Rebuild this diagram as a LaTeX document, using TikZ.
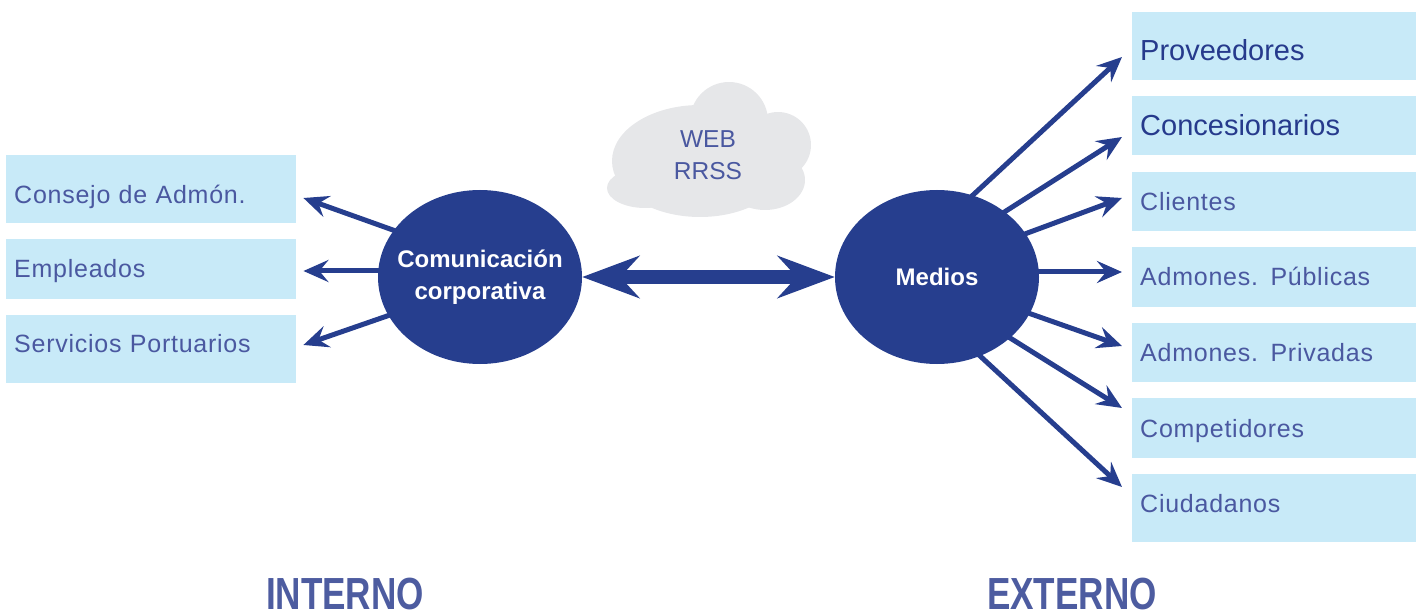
\documentclass[tikz,border=0pt]{standalone}
\usepackage{fontspec}
\setmainfont{Liberation Sans}
\newfontfamily\lsfont[LetterSpace=3]{Liberation Sans}
\newfontfamily\condfont[FakeStretch=0.78]{Liberation Sans}
\usetikzlibrary{shapes.geometric,arrows.meta,calc}
\definecolor{dblue}{RGB}{38,62,142}
\definecolor{boxfill}{RGB}{200,234,248}
\definecolor{txtlight}{RGB}{74,88,160}
\definecolor{txtdark}{RGB}{38,58,140}
\definecolor{cloudc}{RGB}{230,231,233}
\definecolor{lblue}{RGB}{77,92,160}
\pgfdeclarelayer{background}
\pgfsetlayers{background,main}
\tikzset{
  box/.style={rectangle, fill=boxfill, anchor=west, minimum width=290pt,
    text width=274pt, inner xsep=8pt, inner ysep=0pt, align=left,
    text height=18pt, text depth=0pt, text=txtlight,
    font=\lsfont\fontsize{25}{30}\selectfont},
  boxdark/.style={box, text height=21pt, text=txtdark,
    font=\fontsize{29}{34}\selectfont},
  ell/.style={ellipse, fill=dblue, minimum width=204pt, minimum height=174pt,
    inner sep=0pt, text=white, font=\bfseries\fontsize{24}{32}\selectfont},
  arr/.style={line width=5pt, draw=dblue, line cap=butt,
    -{Stealth[length=25pt,width=22pt,inset=9pt]}},
  bigarr/.style={line width=14pt, draw=dblue,
    {Stealth[length=57pt,width=42pt,inset=19pt]}-{Stealth[length=57pt,width=42pt,inset=19pt]}},
  side/.style={text=lblue, anchor=base, inner sep=0pt,
    font=\condfont\bfseries\fontsize{45}{45}\selectfont}
}
\begin{document}
\begin{tikzpicture}[x=1pt,y=-1pt]
\useasboundingbox (0,0) rectangle (1416,612);

% cloud
\fill[cloudc] (700,161) ellipse [x radius=88pt, y radius=56pt];
\fill[cloudc] (729,121) circle [radius=39pt];
\fill[cloudc] (778,145) circle [radius=33pt];
\fill[cloudc] (765,180) ellipse [x radius=40pt, y radius=30pt];
\fill[cloudc] (645,188) ellipse [x radius=38pt, y radius=20pt];
\node[text=txtlight, align=center, font=\fontsize{24.5}{32}\selectfont, inner sep=0pt] (web) at (708,155) {WEB\\RRSS};

% left boxes
\node[box, minimum height=68pt] (cons) at (6,189) {\raisebox{-5.5pt}{Consejo de Admón.}};
\node[box, minimum height=60pt] (emp) at (6,269) {Empleados};
\node[box, minimum height=68pt] (serv) at (6,349) {\raisebox{5.5pt}{Servicios Portuarios}};

% right boxes
\node[boxdark, minimum height=68pt] (prov) at (1132,46) {\raisebox{-4pt}{Proveedores}};
\node[boxdark, minimum height=59pt] (conc) at (1132,125.5) {Concesionarios};
\node[box, minimum height=59pt] (cli) at (1132,201.5) {Clientes};
\node[box, minimum height=60pt] (pub) at (1132,277) {Admones. Públicas};
\node[box, minimum height=59pt] (priv) at (1132,352.5) {Admones. Privadas};
\node[box, minimum height=60pt] (comp) at (1132,428) {Competidores};
\node[box, minimum height=68pt] (ciu) at (1132,508) {\raisebox{5pt}{Ciudadanos}};

% ellipses
\node[ell] (com) at (480,277) {\makebox[0pt]{\raisebox{-1.5pt}{\begin{tabular}{@{}c@{}}Comunicación\\corporativa\end{tabular}}}};
\node[ell] (med) at (937,277) {Medios};

% double arrow
\draw[bigarr] (com) -- (med);

% small arrows
\begin{pgfonlayer}{background}
\draw[arr] ($(com)+(-77.6,-43.6)$) -- ($(cons.east)+(7,9)$);
\draw[arr] ($(com)+(-92,-6)$) -- ($(emp.east)+(7,2)$);
\draw[arr] ($(com)+(-80.5,34.7)$) -- ($(serv.east)+(7,-4)$);
\draw[arr] ($(med)+(27.6,-74.2)$) -- ($(prov.west)+(-10,11)$);
\draw[arr] ($(med)+(57.5,-58.7)$) -- ($(conc.west)+(-10,11.5)$);
\draw[arr] ($(med)+(78.6,-39.6)$) -- ($(cli.west)+(-10,-3.5)$);
\draw[arr] ($(med)+(93,-5)$) -- ($(pub.west)+(-10,-5)$);
\draw[arr] ($(med)+(81.6,32.6)$) -- ($(priv.west)+(-10,-6.5)$);
\draw[arr] ($(med)+(64.5,55.6)$) -- ($(comp.west)+(-10,-20)$);
\draw[arr] ($(med)+(35.7,72.2)$) -- ($(ciu.west)+(-10,-21)$);
\end{pgfonlayer}

% labels
\node[side] (int) at (345,609) {INTERNO};
\node[side] (ext) at (1072,609) {EXTERNO};
\end{tikzpicture}
\end{document}
